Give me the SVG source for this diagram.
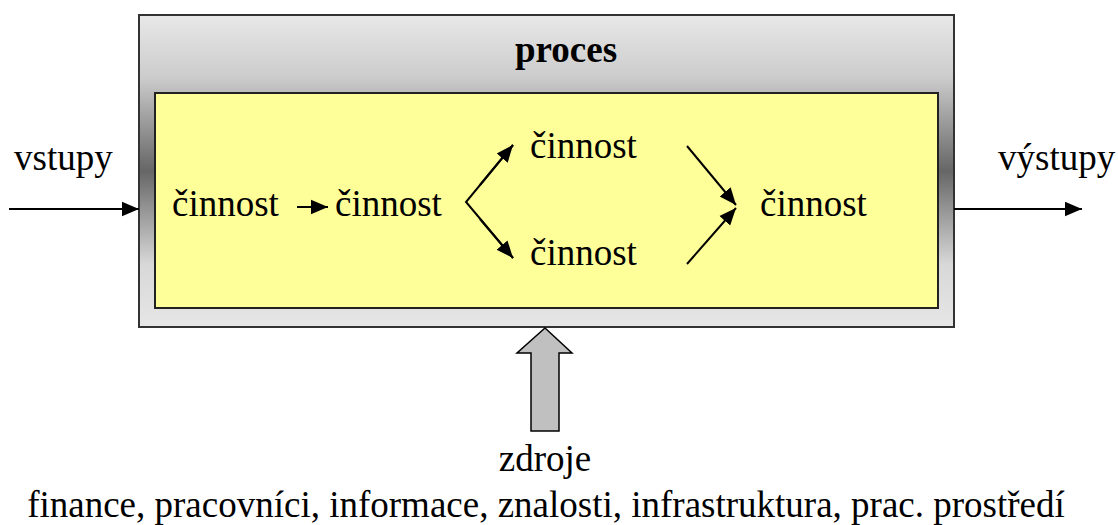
<svg xmlns="http://www.w3.org/2000/svg" width="1118" height="525" viewBox="0 0 1118 525">
  <style>
    .ln { stroke: #000; stroke-width: 2; fill: none; }
  </style>
  <defs>
    <linearGradient id="frameGrad" x1="0" y1="0" x2="0" y2="1">
      <stop offset="0" stop-color="#e8e8e8"/>
      <stop offset="0.2" stop-color="#cccccc"/>
      <stop offset="0.5" stop-color="#666666"/>
      <stop offset="0.8" stop-color="#d8d8d8"/>
      <stop offset="1" stop-color="#e6e6e6"/>
    </linearGradient>
    <marker id="ahL" viewBox="0 0 10 10" refX="10" refY="5" markerWidth="17" markerHeight="17" markerUnits="userSpaceOnUse" orient="auto">
      <path d="M0,0.8 L10,5 L0,9.2 z" fill="#000"/>
    </marker>
  </defs>

  <g font-family="Liberation Serif, Times New Roman, serif" font-size="37" fill="#000">
    <!-- process frame -->
    <g id="process">
      <rect x="139" y="15" width="815" height="312" fill="url(#frameGrad)" stroke="#333" stroke-width="2"/>
      <rect x="155" y="93" width="783" height="215" fill="#ffff99" stroke="#222" stroke-width="2"/>
      <text x="566" y="62" text-anchor="middle" font-weight="bold">proces</text>
    </g>

    <!-- activities -->
    <g id="act1"><text x="172" y="216">činnost</text></g>
    <g id="act2"><text x="335" y="216">činnost</text></g>
    <g id="act3"><text x="530" y="158">činnost</text></g>
    <g id="act4"><text x="530" y="265">činnost</text></g>
    <g id="act5"><text x="760" y="216">činnost</text></g>

    <!-- inputs / outputs -->
    <g id="inputs"><text x="14" y="170">vstupy</text></g>
    <g id="outputs"><text x="998" y="170">výstupy</text></g>

    <!-- resources -->
    <g id="resources">
      <polygon points="545,328 572,353 559,353 559,431 531,431 531,353 517,353" fill="#c0c0c0" stroke="#000" stroke-width="1.5"/>
      <text x="545" y="471" text-anchor="middle">zdroje</text>
      <text x="546" y="517" text-anchor="middle">finance, pracovníci, informace, znalosti, infrastruktura, prac. prostředí</text>
    </g>
  </g>

  <!-- connectors -->
  <g id="connectors">
    <line class="ln" x1="9" y1="209" x2="139" y2="209" marker-end="url(#ahL)"/>
    <line class="ln" x1="954" y1="209" x2="1082" y2="209" marker-end="url(#ahL)"/>
    <line class="ln" x1="297" y1="207" x2="328" y2="207" marker-end="url(#ahL)"/>
    <polyline class="ln" points="513,145 466,202 513,258"/>
    <line class="ln" x1="480" y1="185" x2="513" y2="145" marker-end="url(#ahL)"/>
    <line class="ln" x1="480" y1="219" x2="513" y2="258" marker-end="url(#ahL)"/>
    <line class="ln" x1="687" y1="146" x2="736" y2="205" marker-end="url(#ahL)"/>
    <line class="ln" x1="687" y1="264" x2="736" y2="208" marker-end="url(#ahL)"/>
  </g>
</svg>
